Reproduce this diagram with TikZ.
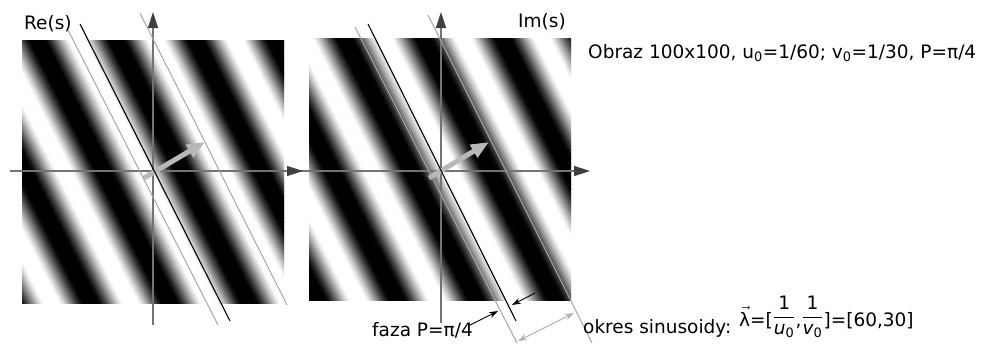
\documentclass[tikz,border=0pt]{standalone}
\usepackage{fix-cm}
\usepackage{amsmath}
\usepackage{fontspec}
\setmainfont{DejaVu Sans}
\usetikzlibrary{arrows.meta}

\begin{document}
\begin{tikzpicture}[x=1pt,y=-1pt,
  lb/.style={inner sep=0pt,anchor=base west,font=\fontsize{18.5}{20}\selectfont},
  ax/.style={draw=black!55,line width=1.4pt,-{Triangle[length=16pt,width=10pt,color=black!75]}},
  wv/.style={draw=black!35,line width=1pt},
  ph/.style={draw=black,line width=1.1pt},
  kv/.style={draw=black!28,line width=5pt,-{Triangle[length=18pt,width=14pt]}},
  dm/.style={draw=black,line width=0.9pt,-{Stealth[length=9pt,width=6pt]}},
  pr/.style={draw=black!30,line width=1pt,{Stealth[length=9pt,width=6pt]}-{Stealth[length=9pt,width=6pt]}}
]
\useasboundingbox (0,0) rectangle (986,343);
\fill[white] (0,0) rectangle (986,343);

\begin{scope}
\clip (22,40) rectangle (284,303);
\foreach \k in {-92,...,91}{
  \pgfmathsetmacro\xa{79*\k/36}
  \pgfmathsetmacro\xb{79*(\k+1)/36+0.5}
  \pgfmathsetmacro\g{min(100,max(0,50-62*cos(10*\k+50)))}
  \fill[black!\g,shift={(153,171.5)}] (\xa-75.5,-150) -- (\xb-75.5,-150) -- (\xb+75.5,150) -- (\xa+75.5,150) -- cycle;
}
\end{scope}
\begin{scope}
\clip (309,38) rectangle (571,300);
\foreach \k in {-92,...,91}{
  \pgfmathsetmacro\xa{79*\k/36}
  \pgfmathsetmacro\xb{79*(\k+1)/36+0.5}
  \pgfmathsetmacro\g{min(100,max(0,50-62*sin(10*\k+50)))}
  \fill[black!\g,shift={(441,171)}] (\xa-75.5,-150) -- (\xb-75.5,-150) -- (\xb+75.5,150) -- (\xa+75.5,150) -- cycle;
}
\end{scope}

\draw[ax] (300,171) -- (590,171);
\draw[ax] (441,323) -- (441,12);
\draw[ax] (10,171) -- (303,171);
\draw[ax] (153,325) -- (153,12);

\draw[kv] (144,178) -- (205,142);
\draw[kv] (429,178) -- (489,142);

\draw[wv] (68,30) -- (218,325);
\draw[ph] (80,24) -- (230,321);
\draw[wv] (140,13) -- (287,305);
\draw[wv] (355,27) -- (517,343);
\draw[ph] (368,24) -- (516,321);
\draw[wv] (428,15) -- (592,343);

\node[lb] (re) at (24,29) {Re(s)};
\node[lb] (im) at (518,27) {Im(s)};
\node[lb] (obr) at (588,58) {Obraz 100x100, u\textsubscript{0}=1/60; v\textsubscript{0}=1/30, P=π/4};
\node[lb] (faza) at (372,336) {faza P=π/4};
\node[lb] (okr) at (583,333) {okres sinusoidy: \raisebox{7pt}{\(\vec{\text{λ}}\)=[\raisebox{4pt}{\(\dfrac{\text{1}}{\text{\itshape u}_{\text{0}}}\)},\raisebox{4pt}{\(\dfrac{\text{1}}{\text{\itshape v}_{\text{0}}}\)}]=[60,30]}};

\coordinate (pa) at (498,311);
\coordinate (pb) at (512,305);
\draw[dm] (470,325) -- (pa);
\draw[dm] (535,293) -- (pb);
\draw[pr] (518,341) -- (574,313);
\end{tikzpicture}
\end{document}
